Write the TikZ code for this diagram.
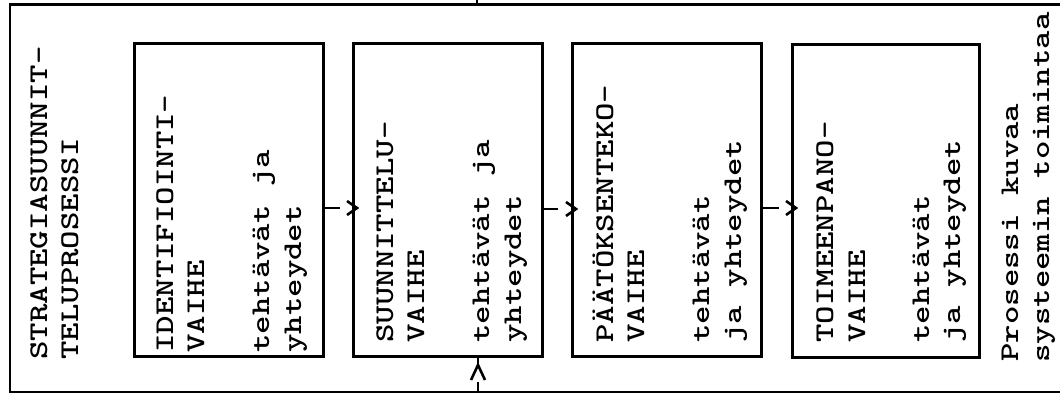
\documentclass[tikz,border=0pt]{standalone}
\usepackage{graphicx}
\newcommand{\tw}[1]{\scalebox{1.3}[1]{#1}}
\begin{document}
\begin{tikzpicture}[x=0.5pt,y=-0.5pt,
  box/.style={draw, line width=1.3pt, inner sep=0, anchor=north west, minimum height=156.5pt},
  txt/.style={rotate=90, anchor=base west, inner sep=0, font=\fontsize{13.5}{15}\selectfont\ttfamily\bfseries},
  conn/.style={line width=1.1pt},
  tip/.style={line width=1.3pt, line join=miter}]
\useasboundingbox (0,0) rectangle (1060,394);
% outer frame (open to the right)
\draw[line width=1.4pt] (1060,4.5) -- (10,4.5) -- (10,392) -- (1060,392);
% boxes
\node[box, minimum width=94.5pt] (b1) at (133,42) {};
\node[box, minimum width=94.5pt] (b2) at (352,42) {};
\node[box, minimum width=94.5pt] (b3) at (571,42) {};
\node[box, minimum width=93.5pt] (b4) at (791,43) {};
% texts
\node[txt] (t1) at (47,360) {\tw{STRATEGIASUUNNIT-}};
\node[txt] (t2) at (78,360) {\tw{TELUPROSESSI}};
\node[txt] (t3) at (173,353) {\tw{IDENTIFIOINTI-}};
\node[txt] (t4) at (204,353) {\tw{VAIHE}};
\node[txt] (t5) at (269,353) {\tw{tehtävät ja}};
\node[txt] (t6) at (301,353) {\tw{yhteydet}};
\node[txt] (t7) at (393,343) {\tw{SUUNNITTELU-}};
\node[txt] (t8) at (424,343) {\tw{VAIHE}};
\node[txt] (t9) at (489,343) {\tw{tehtävät ja}};
\node[txt] (t10) at (521,343) {\tw{yhteydet}};
\node[txt] (t11) at (613,343) {\tw{PÄÄTÖKSENTEKO-}};
\node[txt] (t12) at (644,343) {\tw{VAIHE}};
\node[txt] (t13) at (709,343) {\tw{tehtävät}};
\node[txt] (t14) at (741,343) {\tw{ja yhteydet}};
\node[txt] (t15) at (833,343) {\tw{TOIMEENPANO-}};
\node[txt] (t16) at (865,343) {\tw{VAIHE}};
\node[txt] (t17) at (929,343) {\tw{tehtävät}};
\node[txt] (t18) at (960,343) {\tw{ja yhteydet}};
\node[txt] (t19) at (1018,362) {\tw{Prosessi kuvaa}};
\node[txt] (t20) at (1049,363) {\tw{systeemin toimintaa}};
% connectors between boxes
\coordinate (a1) at (b1.east |- 0,208);
\coordinate (a2) at (b2.east |- 0,209);
\coordinate (a3) at (b3.east |- 0,208);
\draw[conn] (a1) -- ++(15,0);
\draw[tip] (b2.west |- a1) ++(-5,-7) -- ++(10,7) -- ++(-10,7);
\draw[conn] (a2) -- ++(14,0);
\draw[tip] (b3.west |- a2) ++(-5,-7) -- ++(10,7) -- ++(-10,7);
\draw[conn] (a3) -- ++(16,0);
\draw[tip] (b4.west |- a3) ++(-5,-7) -- ++(10,7) -- ++(-10,7);
% connector from above
\coordinate (topin) at (477,0);
\draw[conn] (topin) -- (477,4.5);
% feedback connector from below into box 2
\coordinate (fb) at (478,392);
\draw[conn] (fb) -- ++(0,-10);
\draw[tip] (fb) ++(-7,-12) -- ++(7,-15) -- ++(7,15);
\draw[conn] (b2.south -| fb) -- ++(0,6);
\end{tikzpicture}
\end{document}
